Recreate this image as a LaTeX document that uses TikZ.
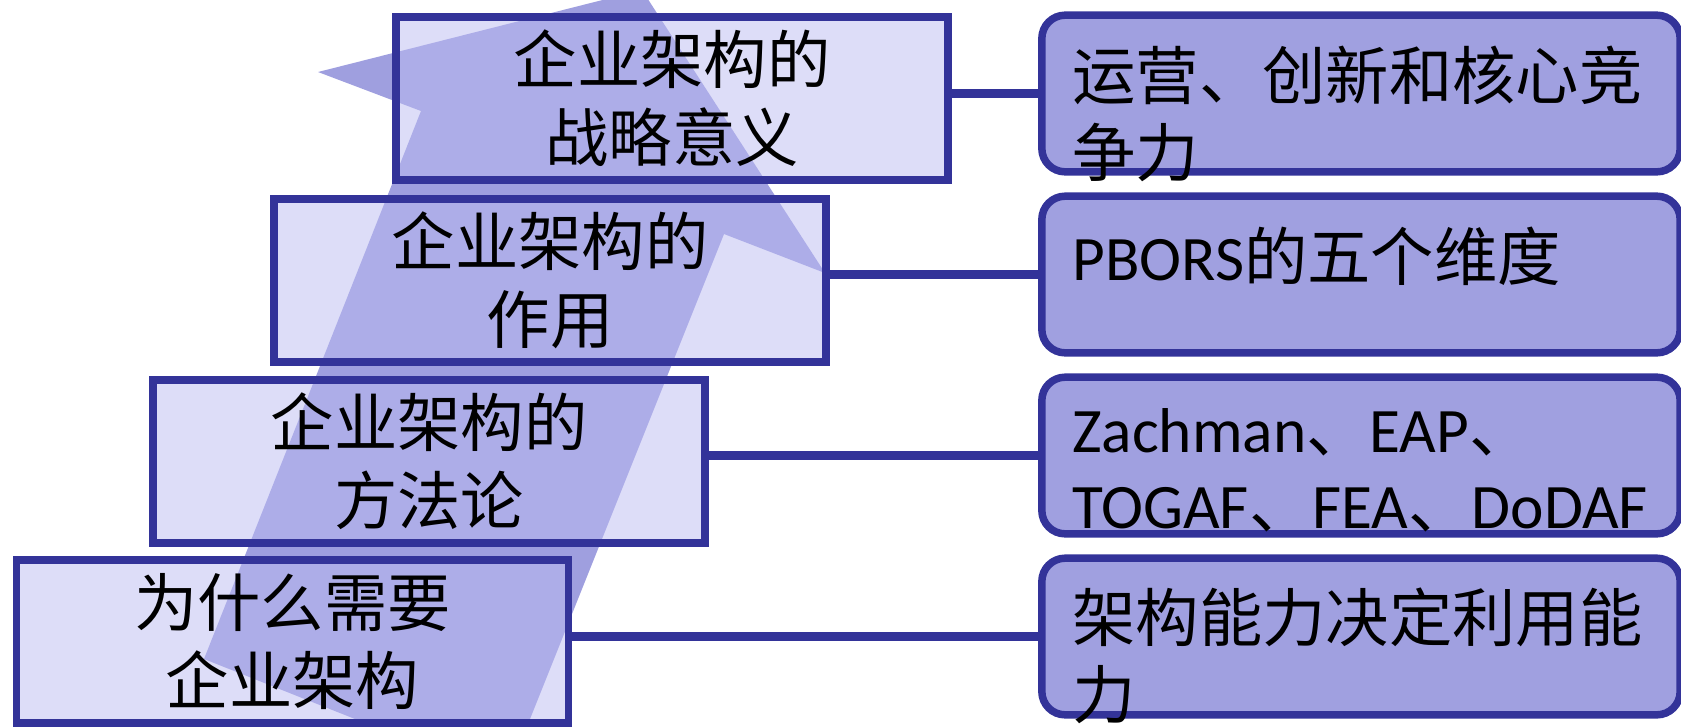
\documentclass[tikz,border=0pt]{standalone}
\usepackage{fontspec}
\setmainfont{Carlito}
\newfontfamily\cjk{Noto Sans CJK SC}
\definecolor{edgeblue}{HTML}{333399}
\definecolor{paleblue}{HTML}{BBBBF1}
\definecolor{midblue}{HTML}{A0A0E0}
\definecolor{arrowblue}{HTML}{9F9FDF}
\tikzset{
  leftbox/.style={draw=edgeblue, line width=4.5pt, fill=paleblue, fill opacity=0.5,
    text opacity=1, minimum width=331pt, minimum height=98pt, inner sep=0pt,
    align=center, font=\cjk\fontsize{38}{47}\selectfont,
    execute at begin node=\rule{0pt}{39pt}},
  rightbox/.style={draw=edgeblue, line width=4.5pt, fill=midblue, rounded corners=14pt,
    minimum width=383pt, minimum height=94pt, inner sep=0pt},
  righttext/.style={anchor=north west, inner sep=0pt, align=left,
    font=\fontsize{38}{46}\selectfont},
  link/.style={draw=edgeblue, line width=5pt}
}
\begin{document}
\begin{tikzpicture}[x=0.6pt, y=-0.6pt]
            %\draw[lightgray] (0, 0) grid[step=100] (1681, 726);
            \useasboundingbox (0, 0) rectangle (1681, 726);
            \clip (0, 0) rectangle (1681, 726);
            \fill[arrowblue] (642, -10) -- (825, 273) -- (724, 234) -- (506, 779)
                -- (204, 659) -- (421, 111) -- (318, 72) -- cycle;
            \node[leftbox] (b1) at (672, 98.5) {企业架构的\\战略意义};
            \node[leftbox] (b2) at (550, 280.5) {企业架构的\\作用};
            \node[leftbox] (b3) at (429, 461.5) {企业架构的\\方法论};
            \node[leftbox] (b4) at (292.5, 641.5) {为什么需要\\企业架构};
            \node[rightbox] (r1) at (1361, 93.5) {};
            \node[rightbox] (r2) at (1361, 274.5) {};
            \node[rightbox] (r3) at (1361, 455.5) {};
            \node[rightbox] (r4) at (1361, 636.5) {};
            \node[righttext] (t1) at (1072, 46) {{\cjk 运营、创新和核心竞}\\{\cjk 争力}};
            \node[righttext] (t2) at (1072, 227) {PBORS{\cjk 的五个维度}};
            \node[righttext] (t3) at (1072, 408) {Zachman{\cjk 、}EAP{\cjk 、}\\TOGAF{\cjk 、}FEA{\cjk 、}DoDAF};
            \node[righttext] (t4) at (1072, 588) {{\cjk 架构能力决定利用能}\\{\cjk 力}};
            \draw[link] (b1.east |- r1.west) -- (r1.west);
            \draw[link] (b2.east |- r2.west) -- (r2.west);
            \draw[link] (b3.east |- r3.west) -- (r3.west);
            \draw[link] (b4.east |- r4.west) -- (r4.west);
        \end{tikzpicture}
\end{document}
